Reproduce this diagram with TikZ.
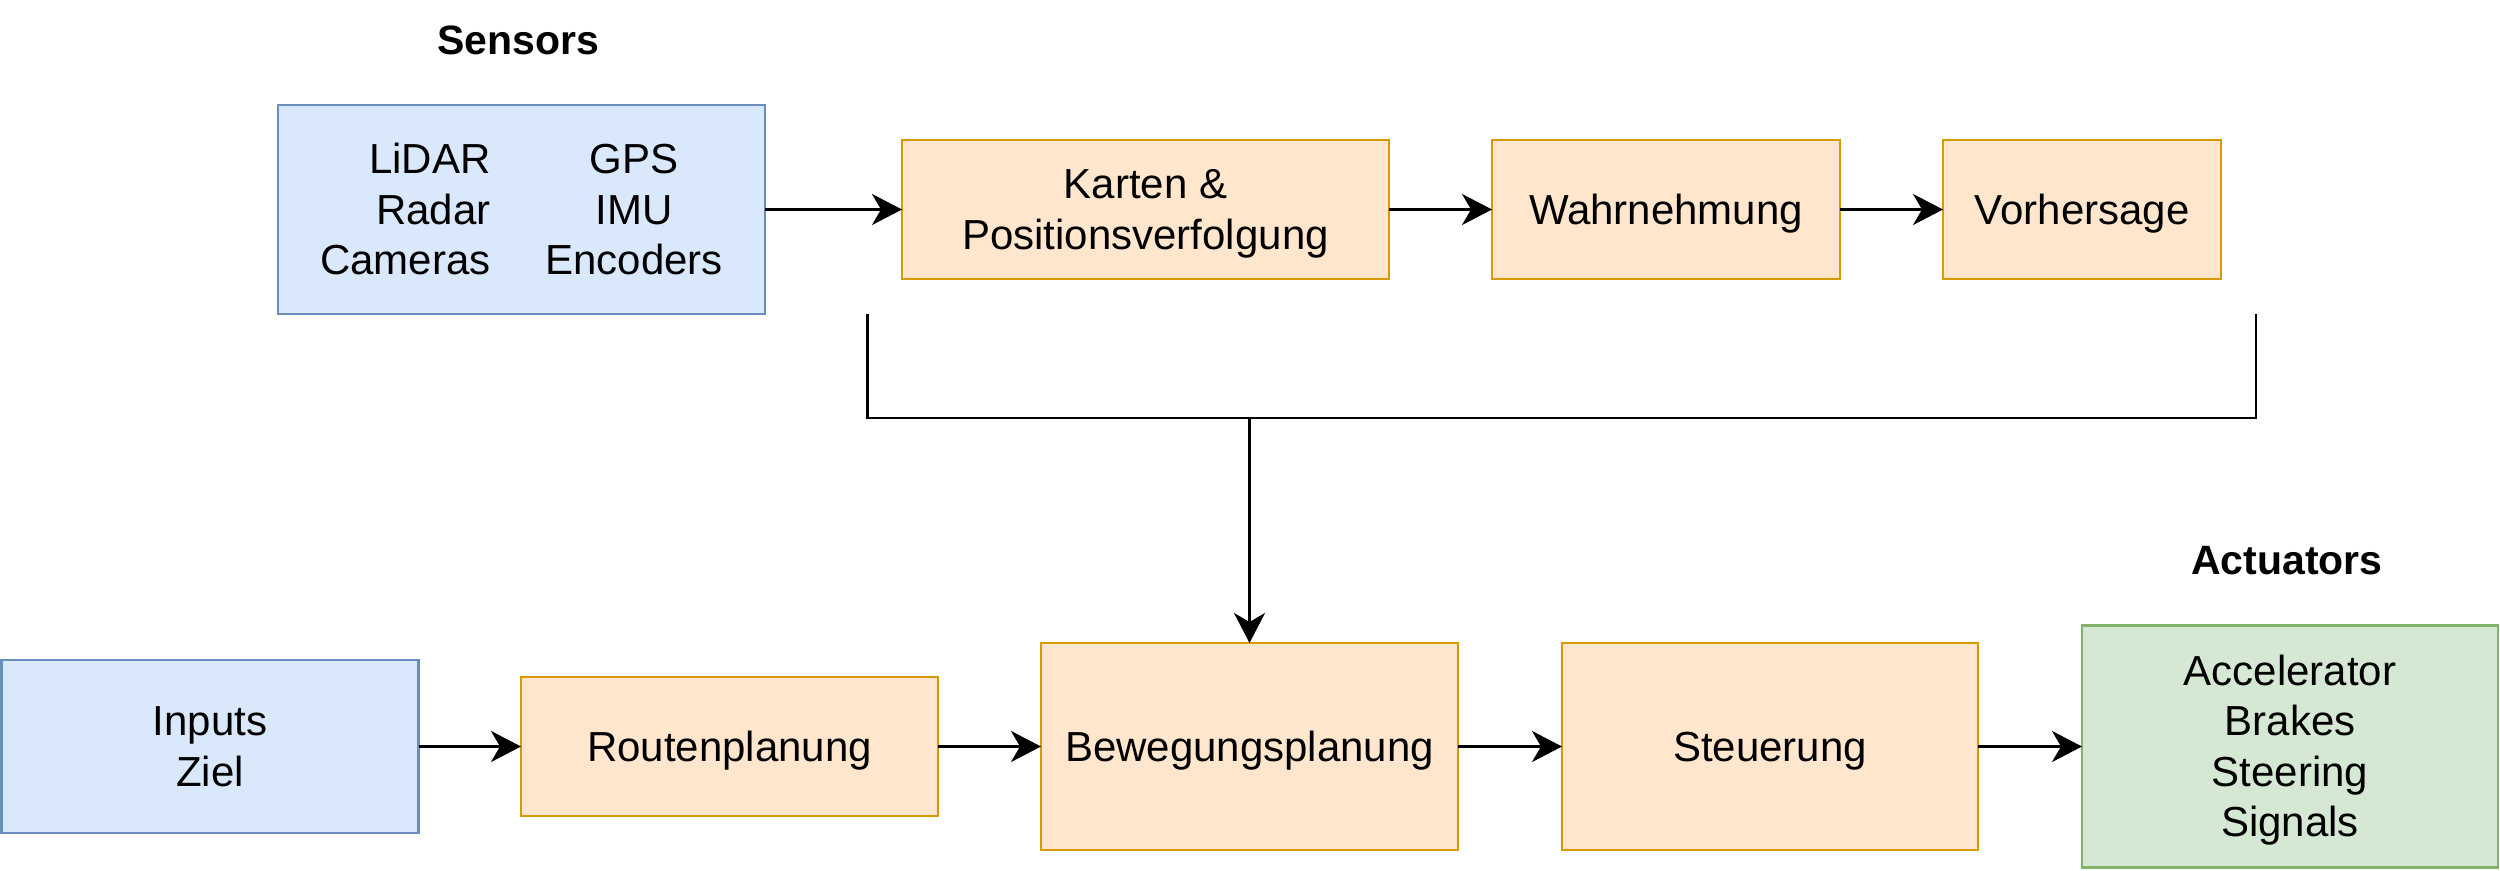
\documentclass[tikz,border=0pt]{standalone}
\usepackage{fontspec}
\setmainfont{Liberation Sans}
\usetikzlibrary{arrows.meta}
\definecolor{bluefill}{HTML}{DAE8FC}
\definecolor{bluedraw}{HTML}{6C8EBF}
\definecolor{orfill}{HTML}{FFE6CC}
\definecolor{ordraw}{HTML}{D79B00}
\definecolor{grfill}{HTML}{D5E8D4}
\definecolor{grdraw}{HTML}{82B366}
\newcommand\lstr{\rule[-10.6pt]{0pt}{50.4pt}}
\tikzset{
  base/.style={rectangle, inner sep=0pt, outer sep=0pt, line width=2.7pt, align=center,
    font=\fontsize{42}{50.4}\selectfont},
  bluebox/.style={base, fill=bluefill, draw=bluedraw},
  orbox/.style={base, fill=orfill, draw=ordraw},
  grbox/.style={base, fill=grfill, draw=grdraw},
  title/.style={font=\fontsize{41}{49}\selectfont\bfseries, inner sep=0pt},
  conn/.style={line width=2.6pt, -{Stealth[length=30pt,width=31pt,inset=9pt]}},
  brk/.style={line width=2.4pt}
}
\begin{document}
\begin{tikzpicture}[x=1pt,y=-1pt]
\useasboundingbox[fill=white] (0,0) rectangle (2500,870);
% titles
\node[title] (tsens) at (518,40) {Sensors};
\node[title] (tact) at (2287,561) {Actuators};
% top row
\node[bluebox, minimum width=487pt, minimum height=209pt] (sens) at (521.5,209.5)
  {\renewcommand\arraystretch{0}\begin{tabular}{@{}r@{\hspace{55pt}}c@{}}\lstr LiDAR & GPS\\ \lstr Radar & IMU\\ \lstr Cameras & Encoders\end{tabular}};
\node[orbox, minimum width=487pt, minimum height=139pt] (kart) at (1145.5,209.5) {\lstr Karten \&\\\lstr Positionsverfolgung};
\node[orbox, minimum width=348pt, minimum height=139pt] (wahr) at (1666,209.5) {\lstr Wahrnehmung};
\node[orbox, minimum width=278pt, minimum height=139pt] (vorh) at (2082,209.5) {\lstr Vorhersage};
% bottom row
\node[bluebox, minimum width=417pt, minimum height=173pt] (inp) at (210,746.5) {\lstr Inputs\\\lstr Ziel};
\node[orbox, minimum width=417pt, minimum height=139pt] (rout) at (729.5,746.5) {\lstr Routenplanung};
\node[orbox, minimum width=417pt, minimum height=207pt] (bew) at (1249.5,746.5) {\lstr Bewegungsplanung};
\node[orbox, minimum width=416pt, minimum height=207pt] (steu) at (1770,746.5) {\lstr Steuerung};
\node[grbox, minimum width=416pt, minimum height=242pt] (act) at (2290,746.5) {\lstr Accelerator\\\lstr Brakes\\\lstr Steering\\\lstr Signals};
% connectors
\draw[conn] (sens.east) -- (kart.west);
\draw[conn] (kart.east) -- (wahr.west);
\draw[conn] (wahr.east) -- (vorh.west);
\draw[conn] (inp.east) -- (rout.west);
\draw[conn] (rout.east) -- (bew.west);
\draw[conn] (bew.east) -- (steu.west);
\draw[conn] (steu.east) -- (act.west);
% bracket
\coordinate (bl) at (867.5,314);
\coordinate (br) at (2256,314);
\coordinate (bm) at (1249.5,418);
\draw[brk] (bl) |- (bm) -| (br);
\draw[conn, line width=2.4pt] (bm) -- (bew.north);
\end{tikzpicture}
\end{document}
